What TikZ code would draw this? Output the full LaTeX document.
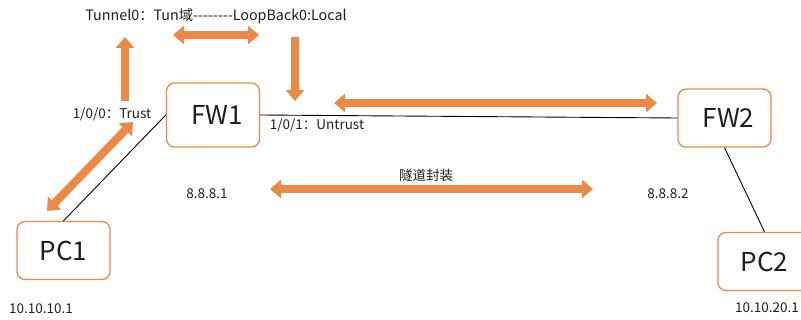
\documentclass[tikz,border=0pt]{standalone}
\usepackage{fontspec}
\setmainfont{Noto Sans CJK SC}
\usetikzlibrary{arrows.meta,positioning}
\definecolor{boxorange}{RGB}{237,137,72}
\definecolor{arrorange}{RGB}{236,137,68}
\definecolor{txtgray}{RGB}{30,30,30}

\begin{document}
\begin{tikzpicture}[
  x=1pt, y=-1pt,
  dev/.style={rectangle, draw=boxorange, line width=1.3pt, rounded corners=8pt, minimum width=93pt, minimum height=58pt, text=txtgray, font=\fontsize{26}{28}\selectfont},
  lbl/.style={inner sep=0pt, text=txtgray, font=\fontsize{13.5}{15}\selectfont},
  wire/.style={draw=black, line width=0.9pt},
  flow/.style={draw=arrorange, line width=8pt, -{Triangle[width=18pt,length=11pt]}},
  flowboth/.style={draw=arrorange, line width=8pt, {Triangle[width=18pt,length=11pt]}-{Triangle[width=18pt,length=11pt]}}
]
\useasboundingbox (0,0) rectangle (801,320);

\node[dev, minimum height=64pt] (fw1) at (213,115) {\hspace*{8pt}FW1};
\node[dev] (fw2) at (724.5,118) {\hspace*{8pt}FW2};
\node[dev] (pc1) at (63.5,250.5) {PC1};
\node[dev] (pc2) at (764.5,261.5) {PC2};

\node[lbl, font=\fontsize{14.3}{16}\selectfont] (tun) at (216,16) {Tunnel0：Tun域-{}-{}-{}-{}-{}-{}-{}-{}LoopBack0:Local};
\node[lbl] (trust) at (112,114) {1/0/0：Trust};
\node[lbl] (untrust) at (317,125) {1/0/1：Untrust};
\node[lbl] (ip1) at (207,194) {8.8.8.1};
\node[lbl] (encap) at (426,175) {隧道封装};
\node[lbl] (ip2) at (668,194) {8.8.8.2};
\node[lbl] (pcip1) at (41,309) {10.10.10.1};
\node[lbl] (pcip2) at (767,308) {10.10.20.1};

\draw[wire] (pc1.north) -- (fw1.west);
\draw[wire] (fw1.east) -- (fw2.west);
\draw[wire] (fw2.south) -- (pc2.north);

% traffic direction
\coordinate (upS) at (125,101);
\coordinate (upE) at (125,37);
\coordinate (topL) at (173,35);
\coordinate (topR) at (259,35);
\coordinate (dnS) at (295,37);
\coordinate (dnE) at (295,101);
\coordinate (midL) at (334,103);
\coordinate (midR) at (657,103);
\coordinate (diagA) at (47,211);
\coordinate (diagB) at (133,122);
\coordinate (botL) at (270,189);
\coordinate (botR) at (593,189);

\draw[flow] (upS) -- (upE);
\draw[flowboth] (topL) -- (topR);
\draw[flow] (dnS) -- (dnE);
\draw[flowboth] (midL) -- (midR);
\draw[flowboth] (diagA) -- (diagB);
\draw[flowboth] (botL) -- (botR);
\end{tikzpicture}
\end{document}
